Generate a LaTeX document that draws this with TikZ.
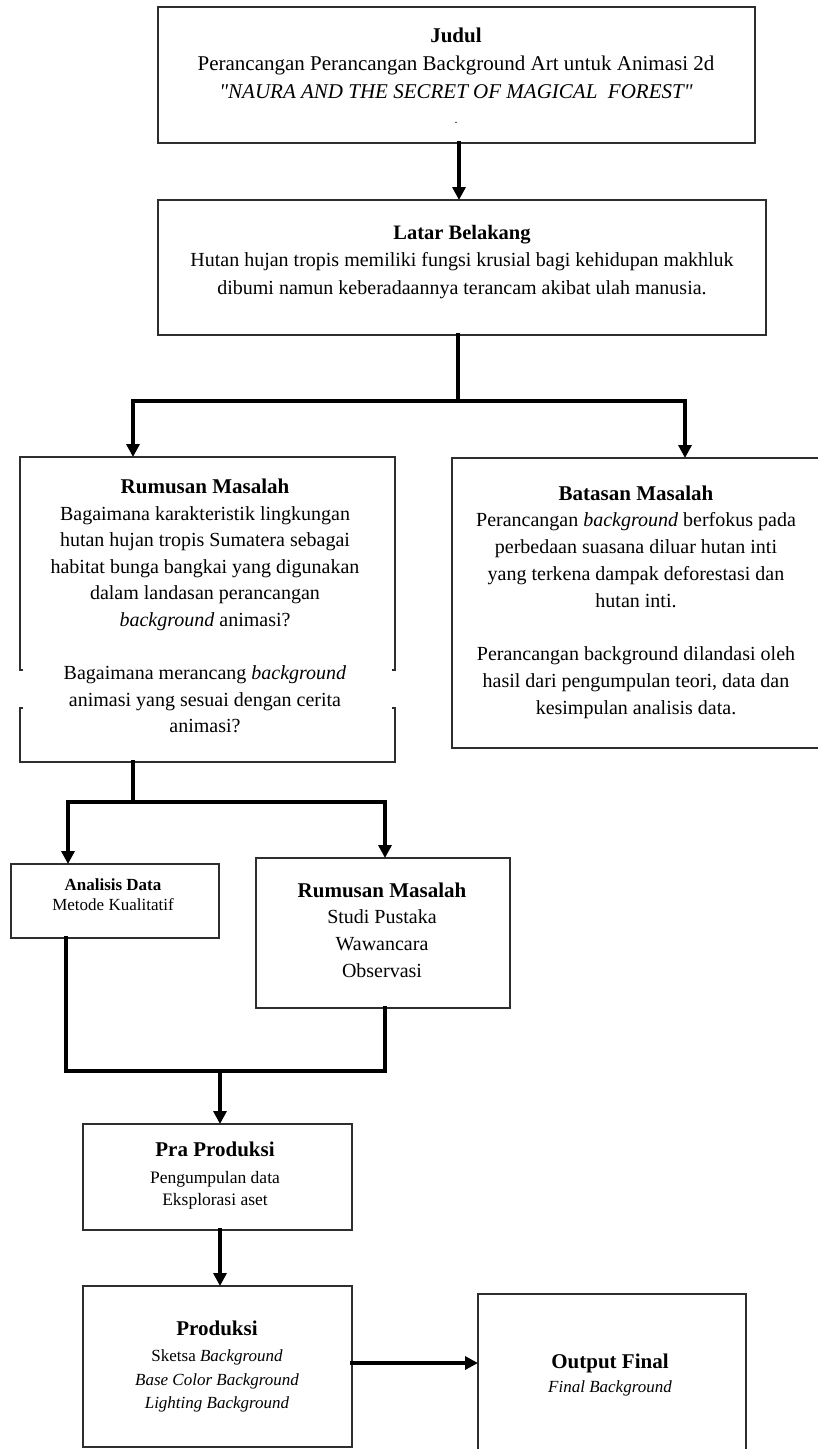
\documentclass[tikz,border=0pt]{standalone}
\usepackage{fontspec}
\setmainfont{Liberation Serif}[Ligatures=TeXOff]
\usetikzlibrary{arrows.meta}
\definecolor{boxgray}{HTML}{2E2E2E}
\newcommand\fsz[2]{\fontsize{#1}{#2}\selectfont}
\begin{document}
\begin{tikzpicture}[x=1pt,y=-1pt,
  box/.style={draw=boxgray,line width=2.6pt,rectangle,inner sep=0pt,outer sep=0pt,anchor=north west,fill=white},
  boxline/.style={draw=boxgray,line width=2.6pt},
  txt/.style={align=center,inner sep=0pt},
  conn/.style={line width=3.4pt,black,line cap=rect},
  arr/.style={conn,-{Triangle[width=13pt,length=13pt]}}]
\useasboundingbox[fill=white] (0,0) rectangle (818,1449);

% boxes
\node[box,minimum width=597pt,minimum height=136pt] (judul) at (158,7) {};
\node[box,minimum width=608pt,minimum height=135pt] (latar) at (158,200) {};
\node[box,minimum width=375pt,minimum height=305pt] (rum) at (20,457) {};
\node[box,minimum width=368pt,minimum height=290pt] (bat) at (452,458) {};
\node[box,minimum width=208pt,minimum height=74pt] (ana) at (11,864) {};
\node[box,minimum width=254pt,minimum height=150pt] (rum2) at (256,858) {};
\node[box,minimum width=269pt,minimum height=106pt] (pra) at (83,1124) {};
\node[box,minimum width=269pt,minimum height=161pt] (prod) at (83,1286) {};
\node[box,minimum width=268pt,minimum height=170pt] (out) at (478,1294) {};

% gaps in the sides of the Rumusan box
\fill[white] (15,670) rectangle (25,708);
\fill[white] (390,670) rectangle (400,708);
\draw[boxline] (20,668.7) -- (20,670) -- (23,670);
\draw[boxline] (20,709.3) -- (20,708) -- (23,708);
\draw[boxline] (395,668.7) -- (395,670) -- (392,670);
\draw[boxline] (395,709.3) -- (395,708) -- (392,708);

% texts
\node[txt,font=\fsz{21}{28}] (tJ) at (456,63) {\textbf{Judul}\\Perancangan Perancangan Background Art untuk Animasi 2d\\\textit{"NAURA AND THE SECRET OF MAGICAL\ \ FOREST"}};
\node[font=\fsz{12}{12},inner sep=0pt] (tdot) at (456,123) {.};
\node[txt,font=\fsz{20}{27.5}] (tL) at (462,262) {{\fsz{20.5}{27.5}\textbf{Latar Belakang}}\\Hutan hujan tropis memiliki fungsi krusial bagi kehidupan makhluk\\dibumi namun keberadaannya terancam akibat ulah manusia.};
\node[txt,font=\fsz{20}{26.6}] (tR) at (205,606) {{\fsz{21}{26.6}\textbf{Rumusan Masalah}}\\Bagaimana karakteristik lingkungan\\hutan hujan tropis Sumatera sebagai\\habitat bunga bangkai yang digunakan\\dalam landasan perancangan\\\textit{background} animasi?\\[26.6pt]Bagaimana merancang \textit{background}\\animasi yang sesuai dengan cerita\\animasi?};
\node[txt,font=\fsz{20}{26.75}] (tB) at (636,602) {{\fsz{21}{26.75}\textbf{Batasan Masalah}}\\Perancangan \textit{background} berfokus pada\\perbedaan suasana diluar hutan inti\\yang terkena dampak deforestasi dan\\hutan inti.\\[26.75pt]Perancangan background dilandasi oleh\\hasil dari pengumpulan teori, data dan\\kesimpulan analisis data.};
\node[txt,font=\fsz{17}{20}] (tA) at (113,895) {\textbf{Analisis Data}\\Metode Kualitatif};
\node[txt,font=\fsz{20}{26.7}] (tR2) at (382,930) {{\fsz{21}{26.7}\textbf{Rumusan Masalah}}\\Studi Pustaka\\Wawancara\\Observasi};
\node[txt,font=\fsz{17.5}{22}] (tP) at (215,1175.5) {{\fsz{21}{22}\textbf{Pra Produksi}}\\[5pt]Pengumpulan data\\Eksplorasi aset};
\node[txt,font=\fsz{17}{23.5}] (tPr) at (217,1367) {{\fsz{21}{23.5}\textbf{Produksi}}\\[2.5pt]Sketsa \textit{Background}\\\textit{Base Color Background}\\\textit{Lighting Background}};
\node[txt,font=\fsz{17}{24}] (tO) at (610,1375) {{\fsz{21}{24}\textbf{Output Final}}\\\textit{Final Background}};

% connectors
\coordinate (cx1) at (459,0);
\draw[arr] (judul.south -| cx1) -- (latar.north -| cx1);

\coordinate (j1) at (458,401);
\coordinate (j1l) at (133,401);
\coordinate (j1r) at (685,401);
\draw[conn] (latar.south -| j1) -- (j1);
\draw[arr] (j1) -| (rum.north -| j1l);
\draw[arr] (j1) -| (bat.north -| j1r);

\coordinate (j2) at (133,802);
\coordinate (j2l) at (68,802);
\coordinate (j2r) at (385,802);
\draw[conn] (rum.south -| j2) -- (j2);
\draw[arr] (j2) -| (ana.north -| j2l);
\draw[arr] (j2) -| (rum2.north -| j2r);

\coordinate (j3l) at (66,1071);
\coordinate (j3r) at (385,1071);
\coordinate (j3) at (220,1071);
\draw[conn] (ana.south -| j3l) |- (j3r) -- (rum2.south -| j3r);
\draw[arr] (j3) -- (pra.north -| j3);

\coordinate (cx5) at (220,0);
\draw[arr] (pra.south -| cx5) -- (prod.north -| cx5);
\coordinate (cy6) at (0,1363);
\draw[arr] (prod.east |- cy6) -- (out.west |- cy6);
\end{tikzpicture}
\end{document}
